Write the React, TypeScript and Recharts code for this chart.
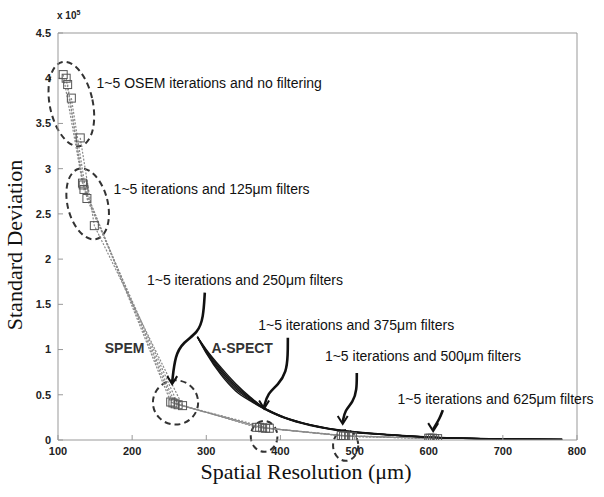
import { ComposedChart, Line, XAxis, YAxis, ReferenceArea, ReferenceDot } from "recharts"

// axes
const xTicks = [100, 200, 300, 400, 500, 600, 700, 800]
const yTicks = [0, 0.5, 1, 1.5, 2, 2.5, 3, 3.5, 4, 4.5]

// SPEM: one row per OSEM iteration (1..5), one column per filter (none, 125, 250, 375, 500, 625 um)
const spemRes = [
  [130, 149, 268, 385, 497, 612],
  [118, 139, 262, 380, 492, 608],
  [113, 135, 258, 376, 488, 605],
  [111, 134, 255, 372, 485, 602],
  [107, 133, 252, 368, 482, 600],
]
const spemStd = [
  [3.34, 2.37, 0.38, 0.13, 0.04, 0.015],
  [3.78, 2.67, 0.39, 0.13, 0.04, 0.015],
  [3.93, 2.77, 0.4, 0.135, 0.045, 0.02],
  [4.0, 2.82, 0.41, 0.14, 0.045, 0.02],
  [4.04, 2.84, 0.42, 0.14, 0.05, 0.02],
]

// A-SPECT curves (std dev in units of 1e5)
const aspectRes = [288, 300, 320, 340, 360, 377, 400, 430, 480, 550, 600, 700, 780]
const aspectStd = [
  [1.14, 1.0, 0.8, 0.62, 0.47, 0.36, 0.27, 0.19, 0.11, 0.058, 0.033, 0.013, 0.006],
  [1.14, 0.99, 0.78, 0.6, 0.46, 0.36, 0.268, 0.188, 0.108, 0.057, 0.032, 0.012, 0.006],
  [1.14, 0.98, 0.76, 0.58, 0.45, 0.355, 0.265, 0.186, 0.106, 0.056, 0.031, 0.012, 0.006],
  [1.14, 0.97, 0.74, 0.56, 0.44, 0.35, 0.262, 0.184, 0.104, 0.055, 0.03, 0.011, 0.005],
  [1.14, 0.96, 0.72, 0.54, 0.43, 0.35, 0.26, 0.182, 0.102, 0.054, 0.03, 0.011, 0.005],
]

// dashed ellipses around the filter groups: [xMin, xMax, yMin, yMax, tilt]
const groupRings = [
  [89, 147, 3.24, 4.19, -12],
  [113, 167, 2.21, 3.01, -14],
  [228, 289, 0.17, 0.66, 0],
  [360, 396, -0.13, 0.21, 0],
  [471, 505, -0.23, 0.11, 0],
]

// hand drawn arrows
const arrowRes = [
  [298, 296, 289, 269, 258, 254],
  [410, 410, 408, 397, 383, 378],
  [503, 503, 498, 487, 484],
  [619, 615, 606],
]
const arrowStd = [
  [1.63, 1.35, 1.19, 1.08, 0.94, 0.64],
  [1.13, 0.94, 0.75, 0.61, 0.52, 0.37],
  [0.74, 0.55, 0.42, 0.33, 0.2],
  [0.33, 0.24, 0.12],
]

// annotations
const noteText = [
  "1~5 OSEM iterations and no filtering",
  "1~5 iterations and 125\u03bcm filters",
  "1~5 iterations and 250\u03bcm filters",
  "1~5 iterations and 375\u03bcm filters",
  "1~5 iterations and 500\u03bcm filters",
  "1~5 iterations and 625\u03bcm filters",
  "SPEM",
  "A-SPECT",
]
const noteRes = [152, 175, 220, 370, 460, 558, 163, 307]
const noteStd = [3.93, 2.76, 1.75, 1.26, 0.91, 0.44, 1.0, 1.0]

const spemSeries = spemRes.map((row, i) => row.map((x, j) => ({ x, y: spemStd[i][j] })))
const aspectSeries = aspectStd.map((row) => row.map((y, j) => ({ x: aspectRes[j], y })))
const arrowSeries = arrowRes.map((row, i) => row.map((x, j) => ({ x, y: arrowStd[i][j] })))

const tickFont = { fontFamily: "Liberation Sans, Arial", fontSize: 11, fontWeight: 700, fill: "#222" }

function Square(props: any) {
  const { cx, cy, index } = props
  if (cx == null || cy == null) return <g key={index} />
  return <rect key={index} x={cx - 4} y={cy - 4} width={8} height={8} fill="none" stroke="#555" strokeWidth={1} />
}

function arrowHead(n: number) {
  return (props: any) => {
    const { cx, cy, index } = props
    if (index !== n - 1) return <g key={index} />
    return (
      <path
        key={index}
        d={`M${cx - 5},${cy - 6} L${cx},${cy + 2} L${cx + 5},${cy - 6}`}
        fill="none"
        stroke="#111"
        strokeWidth={2}
      />
    )
  }
}

export default function App() {
  return (
    <div style={{ position: "absolute", left: 0, top: 0, width: 604, height: 497, background: "#fff" }}>
      <ComposedChart width={604} height={497} margin={{ top: 32, right: 26, bottom: 32, left: 18 }}>
        <XAxis
          dataKey="x"
          type="number"
          domain={[100, 800]}
          ticks={xTicks}
          allowDataOverflow
          height={25}
          tickSize={-5}
          tickMargin={12}
          stroke="#999"
          tick={tickFont}
        />
        <XAxis
          xAxisId="top"
          orientation="top"
          type="number"
          domain={[100, 800]}
          ticks={xTicks}
          allowDataOverflow
          height={1}
          tickSize={-5}
          tick={false}
          stroke="#999"
        />
        <YAxis
          type="number"
          domain={[0, 4.5]}
          ticks={yTicks}
          allowDataOverflow
          width={40}
          tickSize={-5}
          tickMargin={12}
          stroke="#999"
          tick={tickFont}
        />
        <YAxis
          yAxisId="right"
          orientation="right"
          type="number"
          domain={[0, 4.5]}
          ticks={yTicks}
          allowDataOverflow
          width={1}
          tickSize={-5}
          tick={false}
          stroke="#999"
        />

        {spemSeries.map((s, i) => (
          <Line
            key={"spem" + i}
            data={s}
            dataKey="y"
            type="linear"
            stroke="#8a8a8a"
            strokeWidth={1.2}
            strokeDasharray="2 1.5"
            dot={<Square />}
            isAnimationActive={false}
          />
        ))}

        {aspectSeries.map((s, i) => (
          <Line
            key={"aspect" + i}
            data={s}
            dataKey="y"
            type="monotone"
            stroke="#151515"
            strokeWidth={1.4}
            dot={false}
            isAnimationActive={false}
          />
        ))}

        {arrowSeries.map((s, i) => (
          <Line
            key={"arrow" + i}
            data={s}
            dataKey="y"
            type="basis"
            stroke="#111"
            strokeWidth={2.6}
            dot={arrowHead(s.length)}
            isAnimationActive={false}
          />
        ))}

        {groupRings.map((r, i) => (
          <ReferenceArea
            key={"ring" + i}
            x1={r[0]}
            x2={r[1]}
            y1={r[2]}
            y2={r[3]}
            ifOverflow="visible"
            shape={(p: any) => {
              const cx = p.x + p.width / 2
              const cy = p.y + p.height / 2
              return (
                <ellipse
                  cx={cx}
                  cy={cy}
                  rx={Math.abs(p.width) / 2}
                  ry={Math.abs(p.height) / 2}
                  transform={`rotate(${r[4]} ${cx} ${cy})`}
                  fill="none"
                  stroke="#333"
                  strokeWidth={2}
                  strokeDasharray="6 4"
                />
              )
            }}
          />
        ))}

        {noteText.map((t, i) => (
          <ReferenceDot
            key={"note" + i}
            x={noteRes[i]}
            y={noteStd[i]}
            r={0}
            shape={(p: any) => (
              <text
                x={p.cx}
                y={p.cy}
                dominantBaseline="middle"
                fontFamily="Liberation Sans, Arial"
                fontSize={14}
                fontWeight={i >= 6 ? 700 : 400}
                fill={i >= 6 ? "#333" : "#111"}
              >
                {t}
              </text>
            )}
          />
        ))}
      </ComposedChart>

      <div
        style={{
          position: "absolute",
          left: 57,
          top: 9,
          fontFamily: "Liberation Sans, Arial",
          fontSize: 10,
          fontWeight: 700,
          color: "#222",
        }}
      >
        x 10<sup style={{ fontSize: 7 }}>5</sup>
      </div>
      <div
        style={{
          position: "absolute",
          left: 15,
          top: 245,
          transform: "translate(-50%, -50%) rotate(-90deg)",
          whiteSpace: "nowrap",
          fontFamily: "Liberation Serif, Times New Roman",
          fontSize: 22,
          color: "#111",
        }}
      >
        Standard Deviation
      </div>
      <div
        style={{
          position: "absolute",
          left: 306,
          top: 472,
          transform: "translate(-50%, -50%)",
          whiteSpace: "nowrap",
          fontFamily: "Liberation Serif, Times New Roman",
          fontSize: 22,
          color: "#111",
        }}
      >
        {"Spatial Resolution (\u03bcm)"}
      </div>
    </div>
  )
}
